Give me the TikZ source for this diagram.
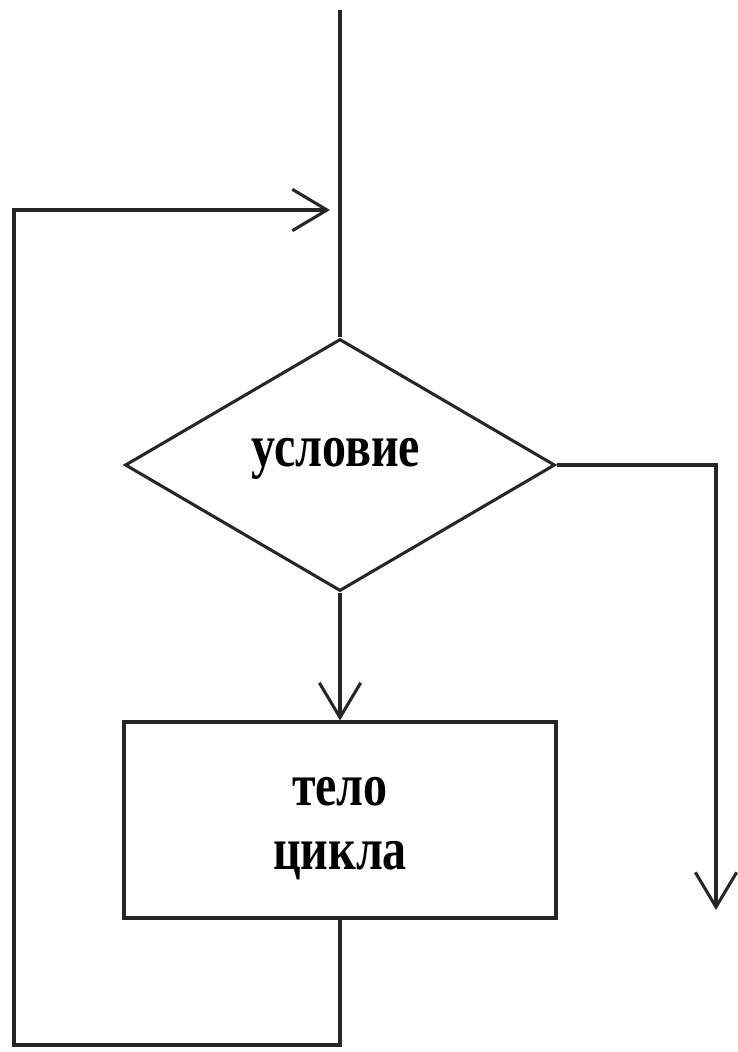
\documentclass[tikz,border=0pt]{standalone}
\usepackage{fontspec}
\newfontfamily\tf[FakeStretch=0.8]{Liberation Serif}
\usetikzlibrary{shapes.geometric,arrows.meta}
\begin{document}
\begin{tikzpicture}[x=0.75pt,y=-0.75pt,
  ln/.style={line width=2.3pt,draw=black!85},
  arr/.style={ln,-{Straight Barb[length=26pt,width=31pt,line width=2.3pt]}},
  lbl/.style={font=\tf\bfseries\fontsize{45}{48}\selectfont,align=center}]
\useasboundingbox (0,0) rectangle (738,1052);
\coordinate (top) at (340,10);
\node[ln,diamond,minimum width=322.5pt,minimum height=189pt,inner sep=0pt] (cond) at (340,465) {};
\node[lbl] (ct) at (336,459) {условие};
\node[ln,rectangle,minimum width=324pt,minimum height=147pt,inner sep=0pt] (body) at (340,820) {};
\node[lbl] (bt) at (340,829) {тело\\цикла};
\coordinate (b1) at (340,1045);
\coordinate (b2) at (14,1045);
\coordinate (b3) at (14,210);
\coordinate (b4) at (330,210);
\coordinate (r1) at (716,465);
\coordinate (r2) at (716,910);
\draw[ln] (top) -- (cond.north);
\draw[arr] (cond.south) -- (body.north);
\draw[ln] (body.south) -- (b1) -- (b2) -- (b3) -- ++(1,0);
\draw[arr] (b3) -- (b4);
\draw[arr] (cond.east) -- (r1) -- (r2);
\end{tikzpicture}
\end{document}
